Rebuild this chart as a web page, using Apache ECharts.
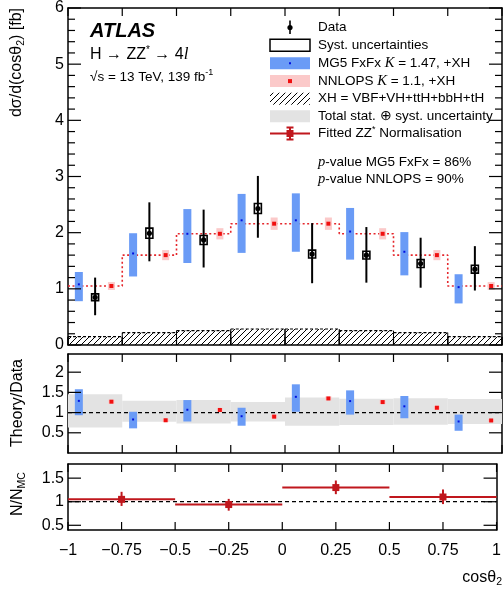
<!DOCTYPE html>
<html><head><meta charset="utf-8">
<script src="https://cdn.jsdelivr.net/npm/echarts@6/dist/echarts.min.js"></script>
<style>html,body{margin:0;padding:0;background:#fff}#c{width:504px;height:590px}#log{position:absolute;left:2px;top:578px;font:9px monospace;color:#c00;white-space:pre}</style>
</head><body><div id="c"></div><div id="log"></div>
<script>
const logs = [];
function showLog() { document.getElementById('log').textContent = logs.join(' | ').slice(0, 160); }
window.onerror = function (m) { logs.push('ERR ' + m); showLog(); };
console.error = function () { logs.push('E ' + Array.from(arguments).join(' ')); showLog(); };

// ---------------- data ----------------
const binEdges = [-1, -0.75, -0.5, -0.25, 0, 0.25, 0.5, 0.75, 1];
const xTicks = [-1, -0.75, -0.5, -0.25, 0, 0.25, 0.5, 0.75, 1];
const dataVal   = [0.85, 1.99, 1.87, 2.43, 1.62, 1.60, 1.45, 1.35];
const dataErrLo = [0.53, 1.49, 1.38, 1.91, 1.10, 1.11, 1.02, 0.97];
const dataErrHi = [1.20, 2.54, 2.41, 3.01, 2.17, 2.10, 1.91, 1.76];
const dataSyst  = [0.06, 0.09, 0.08, 0.09, 0.07, 0.07, 0.07, 0.07];
const mg5Val = [1.08, 1.63, 1.98, 2.22, 2.22, 2.02, 1.66, 1.03];
const mg5Lo  = [0.78, 1.22, 1.46, 1.64, 1.66, 1.52, 1.24, 0.74];
const mg5Hi  = [1.30, 1.99, 2.42, 2.69, 2.70, 2.44, 2.01, 1.26];
const nnlopsVal = [1.05, 1.60, 1.98, 2.16, 2.16, 1.98, 1.60, 1.05];
const nnlopsErr = [0.07, 0.09, 0.10, 0.11, 0.11, 0.10, 0.09, 0.07];
const xhVal = [0.15, 0.22, 0.255, 0.285, 0.285, 0.255, 0.22, 0.15];
// ratio panel
const totUncLo = [0.634, 0.773, 0.732, 0.78, 0.675, 0.69, 0.70, 0.717];
const totUncHi = [1.456, 1.293, 1.31, 1.26, 1.375, 1.34, 1.358, 1.334];
const mg5RatioVal = [1.29, 0.83, 1.07, 0.91, 1.39, 1.285, 1.155, 0.78];
const mg5RatioLo  = [0.935, 0.61, 0.78, 0.675, 1.02, 0.95, 0.86, 0.55];
const mg5RatioHi  = [1.578, 1.02, 1.31, 1.12, 1.70, 1.55, 1.41, 0.95];
const nnlopsRatioVal = [1.27, 0.81, 1.065, 0.90, 1.35, 1.26, 1.12, 0.805];
const nnlopsRatioErr = [0.05, 0.04, 0.05, 0.05, 0.05, 0.05, 0.05, 0.04];
// normalisation panel
const normEdges = [-1, -0.5, 0, 0.5, 1];
const normVal = [1.05, 0.94, 1.30, 1.10];
const normLo  = [0.91, 0.81, 1.16, 0.95];
const normHi  = [1.21, 1.06, 1.45, 1.26];
const mainYTicks = [0, 1, 2, 3, 4, 5, 6];
const ratioYTicks = [0.5, 1, 1.5, 2];
const normYTicks = [0.5, 1, 1.5];

// ---------------- style ----------------
const FONT = 'Liberation Sans';
const SERIF = 'Liberation Serif';
const BLUE = '#6a9bf6', BLUEDOT = '#0010e0', PINK = '#fbc9c9', RED = '#f01010', GRAY = '#e3e3e3', DRED = '#c0171d';
const OFF = 0.075; // horizontal offset of theory markers inside bin
const AXLINE = { show: true, onZero: false, lineStyle: { color: '#000', width: 1.5 } };
const ranges = [[0, 6], [0, 2.45], [0.4, 1.8]];

const centers = binEdges.slice(0, -1).map((e, i) => (e + binEdges[i + 1]) / 2);

function fmtX(v) { return (v < 0 ? '\u2212' + String(-v) : String(v)); }

function xAxesFor(gi, labels) {
  return [
    { gridIndex: gi, type: 'value', min: -1, max: 1, interval: 0.25, position: 'bottom',
      axisLine: AXLINE, splitLine: { show: false }, axisTick: { show: false },
      axisLabel: { show: labels, fontFamily: FONT, fontSize: 16, color: '#000', margin: 13, formatter: fmtX } },
    { gridIndex: gi, type: 'value', min: -1, max: 1, interval: 0.25, position: 'top',
      axisLine: AXLINE, splitLine: { show: false }, axisTick: { show: false }, axisLabel: { show: false } }
  ];
}
function yAxesFor(gi, ticks, isMain) {
  const base = { gridIndex: gi, type: 'value', min: ranges[gi][0], max: ranges[gi][1],
    axisLine: AXLINE, splitLine: { show: false }, axisTick: { show: false }, minorTick: { show: false } };
  const lab = { fontFamily: FONT, fontSize: 16, color: '#000', margin: 4 };
  const left = isMain ? Object.assign({}, base, { position: 'left', interval: 1, axisLabel: lab })
    : Object.assign({}, base, { position: 'left', axisLabel: Object.assign({ customValues: ticks }, lab) });
  const right = Object.assign({}, base, { position: 'right', axisLabel: { show: false } }, isMain ? { interval: 1 } : {});
  return [left, right];
}

// ---------- renderers ----------
function renderHatch(params, api) {
  const xl = api.value(0), xr = api.value(1), h = api.value(2);
  const p0 = api.coord([xl, h]), p1 = api.coord([xr, 0]);
  const x0 = p0[0], y0 = p0[1], x1 = p1[0], y1 = p1[1];
  const s = 6, ch = [];
  const cStart = Math.ceil((x0 + y0) / s) * s;
  for (let c = cStart; c <= x1 + y1; c += s) {
    const xa = Math.max(x0, c - y1), xb = Math.min(x1, c - y0);
    if (xb > xa) ch.push({ type: 'line', shape: { x1: xa, y1: c - xa, x2: xb, y2: c - xb }, style: { stroke: '#000', lineWidth: 1 } });
  }
  ch.push({ type: 'line', shape: { x1: x0, y1: y0, x2: x1, y2: y0 }, style: { stroke: '#000', lineWidth: 1.2, lineDash: [3, 2] } });
  ch.push({ type: 'line', shape: { x1: x0, y1: y0, x2: x0, y2: y1 }, style: { stroke: '#000', lineWidth: 1 } });
  ch.push({ type: 'line', shape: { x1: x1, y1: y0, x2: x1, y2: y1 }, style: { stroke: '#000', lineWidth: 1 } });
  return { type: 'group', children: ch };
}
function boxRenderer(w, fill, dotColor, dotSize) {
  return function (params, api) {
    const x = api.value(0), v = api.value(1), lo = api.value(2), hi = api.value(3);
    const pt = api.coord([x, hi]), pb = api.coord([x, lo]), pc = api.coord([x, v]);
    return { type: 'group', children: [
      { type: 'rect', shape: { x: pt[0] - w / 2, y: pt[1], width: w, height: pb[1] - pt[1] }, style: { fill: fill } },
      { type: 'rect', shape: { x: pc[0] - dotSize / 2, y: pc[1] - dotSize / 2, width: dotSize, height: dotSize }, style: { fill: dotColor } }
    ] };
  };
}
function renderBand(params, api) {
  const pt = api.coord([api.value(0), api.value(3)]), pb = api.coord([api.value(1), api.value(2)]);
  return { type: 'rect', shape: { x: pt[0], y: pt[1], width: pb[0] - pt[0], height: pb[1] - pt[1] }, style: { fill: GRAY } };
}
function renderData(params, api) {
  const x = api.value(0), v = api.value(1), lo = api.value(2), hi = api.value(3), sy = api.value(4);
  const ph = api.coord([x, hi]), pl = api.coord([x, lo]), pc = api.coord([x, v]);
  const st = api.coord([x, v + sy]), sb = api.coord([x, v - sy]);
  const w = 7;
  return { type: 'group', children: [
    { type: 'line', shape: { x1: ph[0], y1: ph[1], x2: pl[0], y2: pl[1] }, style: { stroke: '#000', lineWidth: 2 } },
    { type: 'rect', shape: { x: st[0] - w / 2, y: st[1], width: w, height: Math.max(sb[1] - st[1], 6) }, style: { fill: 'none', stroke: '#000', lineWidth: 1.6 } },
    { type: 'circle', shape: { cx: pc[0], cy: pc[1], r: 2.6 }, style: { fill: '#000' } }
  ] };
}
function renderNorm(params, api) {
  const xl = api.value(0), xr = api.value(1), v = api.value(2), lo = api.value(3), hi = api.value(4);
  const xc = (xl + xr) / 2;
  const a = api.coord([xl, v]), b = api.coord([xr, v]), ph = api.coord([xc, hi]), pl = api.coord([xc, lo]), pc = api.coord([xc, v]);
  return { type: 'group', children: [
    { type: 'line', shape: { x1: a[0], y1: a[1], x2: b[0], y2: b[1] }, style: { stroke: DRED, lineWidth: 2 } },
    { type: 'line', shape: { x1: ph[0], y1: ph[1], x2: pl[0], y2: pl[1] }, style: { stroke: DRED, lineWidth: 2 } },
    { type: 'rect', shape: { x: pc[0] - 3.5, y: pc[1] - 3.5, width: 7, height: 7 }, style: { fill: DRED } }
  ] };
}

// ---------- series data ----------
const hatchData = xhVal.map((h, i) => [binEdges[i], binEdges[i + 1], h]);
const stepData = [];
nnlopsVal.forEach((v, i) => { stepData.push([binEdges[i], v]); stepData.push([binEdges[i + 1], v]); });
const mg5Data = mg5Val.map((v, i) => [centers[i] - OFF, v, mg5Lo[i], mg5Hi[i]]);
const nnData = nnlopsVal.map((v, i) => [centers[i] + OFF, v, v - nnlopsErr[i], v + nnlopsErr[i]]);
const dData = dataVal.map((v, i) => [centers[i], v, dataErrLo[i], dataErrHi[i], dataSyst[i]]);
const bandData = totUncLo.map((lo, i) => [binEdges[i], binEdges[i + 1], lo, totUncHi[i]]);
const mg5RData = mg5RatioVal.map((v, i) => [centers[i] - OFF, v, mg5RatioLo[i], mg5RatioHi[i]]);
const nnRData = nnlopsRatioVal.map((v, i) => [centers[i] + OFF, v, v - nnlopsRatioErr[i], v + nnlopsRatioErr[i]]);
const normData = normVal.map((v, i) => [normEdges[i], normEdges[i + 1], v, normLo[i], normHi[i]]);

const grids = [
  { left: 68, right: 2, top: 8, height: 337 },
  { left: 68, right: 2, top: 354, height: 99 },
  { left: 68, right: 2, top: 464, height: 66 }
];

const xAxis = [].concat(xAxesFor(0, false), xAxesFor(1, false), xAxesFor(2, true));
const yAxis = [].concat(yAxesFor(0, mainYTicks, true), yAxesFor(1, ratioYTicks, false), yAxesFor(2, normYTicks, false));

const series = [
  { type: 'custom', xAxisIndex: 0, yAxisIndex: 0, renderItem: renderHatch, data: hatchData, z: 2, silent: true },
  { type: 'line', xAxisIndex: 0, yAxisIndex: 0, data: stepData, symbol: 'none', z: 3,
    lineStyle: { color: '#e5262b', width: 1.6, type: [2, 2.5] }, silent: true, animation: false },
  { type: 'custom', xAxisIndex: 0, yAxisIndex: 0, renderItem: boxRenderer(8, BLUE, BLUEDOT, 2), data: mg5Data, z: 4 },
  { type: 'custom', xAxisIndex: 0, yAxisIndex: 0, renderItem: boxRenderer(7, PINK, RED, 4), data: nnData, z: 4 },
  { type: 'custom', xAxisIndex: 0, yAxisIndex: 0, renderItem: renderData, data: dData, z: 5 },
  // ratio panel
  { type: 'custom', xAxisIndex: 2, yAxisIndex: 2, renderItem: renderBand, data: bandData, z: 2 },
  { type: 'line', xAxisIndex: 2, yAxisIndex: 2, data: [[-1, 1], [1, 1]], symbol: 'none', z: 3,
    lineStyle: { color: '#000', width: 1.2, type: [4, 3] }, animation: false },
  { type: 'custom', xAxisIndex: 2, yAxisIndex: 2, renderItem: boxRenderer(8, BLUE, BLUEDOT, 2), data: mg5RData, z: 4 },
  { type: 'custom', xAxisIndex: 2, yAxisIndex: 2, renderItem: boxRenderer(6, PINK, RED, 4), data: nnRData, z: 4 },
  // normalisation panel
  { type: 'line', xAxisIndex: 4, yAxisIndex: 4, data: [[-1, 1], [1, 1]], symbol: 'none', z: 3,
    lineStyle: { color: '#000', width: 1.2, type: [4, 3] }, animation: false },
  { type: 'custom', xAxisIndex: 4, yAxisIndex: 4, renderItem: renderNorm, data: normData, z: 4 }
];

// ---------- annotations / legend ----------
const LX = 270, LW = 40, TX = 318, LFS = 13.5;
const rowY = [27.5, 45.3, 63.2, 81.1, 98.7, 116.2, 133.5];
function txt(x, y, text, fs, extra) {
  return Object.assign({ type: 'text', x: x, y: y, z: 100,
    style: Object.assign({ text: text, fontFamily: FONT, fontSize: fs, fill: '#000', align: 'left', verticalAlign: 'middle', textAlign: 'left', textVerticalAlign: 'middle' }, extra || {}) });
}
const richCommon = {
  k: { fontFamily: SERIF, fontStyle: 'italic', fontSize: 14.5 },
  sup: { fontSize: 9, verticalAlign: 'top', fontFamily: FONT },
  sub: { fontSize: 10.5, verticalAlign: 'bottom', fontFamily: FONT }
};
function hatchLegend(x0, y0, x1, y1) {
  const ch = [], s = 6;
  for (let c = Math.ceil((x0 + y0) / s) * s; c <= x1 + y1; c += s) {
    const xa = Math.max(x0, c - y1), xb = Math.min(x1, c - y0);
    if (xb > xa) ch.push({ type: 'line', shape: { x1: xa, y1: c - xa, x2: xb, y2: c - xb }, style: { stroke: '#000', lineWidth: 1 } });
  }
  return ch;
}
const g = [];
g.push(txt(90, 31, 'ATLAS', 20, { fontWeight: 'bold', fontStyle: 'italic' }));
g.push(txt(90, 55, 'H \u2192 ZZ{sup|*} \u2192 4{l|l}', 16, { rich: { sup: { fontSize: 10, verticalAlign: 'top' }, l: { fontFamily: SERIF, fontStyle: 'italic', fontSize: 17 } }, lineHeight: 20 }));
g.push(txt(90, 77, '\u221As = 13 TeV, 139 fb{sup|-1}', 13.5, { rich: { sup: { fontSize: 9, verticalAlign: 'top' } }, lineHeight: 18 }));
// legend symbols
g.push({ type: 'line', shape: { x1: 290, y1: 20.5, x2: 290, y2: 34 }, style: { stroke: '#000', lineWidth: 1.6 }, z: 100 });
g.push({ type: 'circle', shape: { cx: 290, cy: rowY[0], r: 2.6 }, style: { fill: '#000' }, z: 100 });
g.push({ type: 'rect', shape: { x: LX, y: rowY[1] - 6, width: LW, height: 12 }, style: { fill: '#fff', stroke: '#000', lineWidth: 1.5 }, z: 100 });
g.push({ type: 'rect', shape: { x: LX, y: rowY[2] - 6, width: LW, height: 12 }, style: { fill: BLUE }, z: 100 });
g.push({ type: 'rect', shape: { x: 289, y: rowY[2] - 1, width: 2, height: 2 }, style: { fill: BLUEDOT }, z: 101 });
g.push({ type: 'rect', shape: { x: LX, y: rowY[3] - 6, width: LW, height: 12 }, style: { fill: PINK }, z: 100 });
g.push({ type: 'rect', shape: { x: 288, y: rowY[3] - 2, width: 4, height: 4 }, style: { fill: RED }, z: 101 });
g.push({ type: 'group', z: 100, children: hatchLegend(LX, rowY[4] - 6, LX + LW, rowY[4] + 6) });
g.push({ type: 'rect', shape: { x: LX, y: rowY[5] - 6, width: LW, height: 12 }, style: { fill: GRAY }, z: 100 });
g.push({ type: 'line', shape: { x1: LX, y1: rowY[6], x2: LX + LW, y2: rowY[6] }, style: { stroke: DRED, lineWidth: 2 }, z: 100 });
g.push({ type: 'line', shape: { x1: 290, y1: rowY[6] - 6, x2: 290, y2: rowY[6] + 6 }, style: { stroke: DRED, lineWidth: 2 }, z: 100 });
g.push({ type: 'line', shape: { x1: 286.5, y1: rowY[6] - 6, x2: 293.5, y2: rowY[6] - 6 }, style: { stroke: DRED, lineWidth: 2 }, z: 100 });
g.push({ type: 'line', shape: { x1: 286.5, y1: rowY[6] + 6, x2: 293.5, y2: rowY[6] + 6 }, style: { stroke: DRED, lineWidth: 2 }, z: 100 });
g.push({ type: 'rect', shape: { x: 286.5, y: rowY[6] - 3.5, width: 7, height: 7 }, style: { fill: DRED }, z: 101 });
// legend text
const legendTexts = ['Data', 'Syst. uncertainties', 'MG5 FxFx {k|K} = 1.47, +XH', 'NNLOPS {k|K} = 1.1, +XH',
  'XH = VBF+VH+ttH+bbH+tH', 'Total stat. \u2295 syst. uncertainty', 'Fitted ZZ{sup|*} Normalisation'];
legendTexts.forEach((t, i) => g.push(txt(TX, rowY[i], t, LFS, { rich: richCommon, lineHeight: 17 })));
g.push(txt(TX, 162, '{k|p}-value MG5 FxFx = 86%', LFS, { rich: richCommon, lineHeight: 17 }));
g.push(txt(TX, 179.5, '{k|p}-value NNLOPS = 90%', LFS, { rich: richCommon, lineHeight: 17 }));
// axis titles
g.push(Object.assign(txt(17, 8, 'd\u03C3/d(cos\u03B8{sub|2}) [fb]', 16, { align: 'right', textAlign: 'right', rich: richCommon, lineHeight: 20 }), { rotation: Math.PI / 2 }));
g.push(Object.assign(txt(18, 403, 'Theory/Data', 16, { align: 'center', textAlign: 'center' }), { rotation: Math.PI / 2 }));
g.push(Object.assign(txt(18, 494, 'N/N{sub|MC}', 16, { align: 'center', textAlign: 'center', rich: richCommon, lineHeight: 20 }), { rotation: Math.PI / 2 }));
g.push(txt(502, 578, 'cos\u03B8{sub|2}', 16, { align: 'right', textAlign: 'right', rich: richCommon, lineHeight: 20 }));

const chart = echarts.init(document.getElementById('c'), null, { renderer: 'canvas' });
try {
  chart.setOption({ animation: false, grid: grids, xAxis: xAxis, yAxis: yAxis, series: series });
} catch (e) { logs.push('SET ' + e.message); showLog(); }

// ---------- frame ticks, positioned through the axes' own scales ----------
const tickEls = [];
function tline(x1, y1, x2, y2) {
  tickEls.push({ type: 'line', z: 90, shape: { x1: x1, y1: y1, x2: x2, y2: y2 }, style: { stroke: '#000', lineWidth: 1.2 } });
}
const yTickSets = [mainYTicks, ratioYTicks, normYTicks];
try {
  for (let gi = 0; gi < 3; gi++) {
    const finder = { xAxisIndex: gi * 2, yAxisIndex: gi * 2 };
    const lo = chart.convertToPixel(finder, [-1, ranges[gi][0]]);
    const hi = chart.convertToPixel(finder, [1, ranges[gi][1]]);
    const L = lo[0], R = hi[0], B = lo[1], T = hi[1];
    xTicks.forEach(v => {
      const x = chart.convertToPixel(finder, [v, ranges[gi][0]])[0];
      tline(x, B, x, B - 8); tline(x, T, x, T + 8);
    });
    yTickSets[gi].forEach(v => {
      const y = chart.convertToPixel(finder, [0, v])[1];
      tline(L, y, L + 13, y); tline(R, y, R - 13, y);
    });
    if (gi === 0) {
      for (let i = 0; i < mainYTicks.length - 1; i++) {
        for (let k = 1; k < 5; k++) {
          const y = chart.convertToPixel(finder, [0, mainYTicks[i] + k * 0.2])[1];
          tline(L, y, L + 7, y); tline(R, y, R - 7, y);
        }
      }
    }
  }
} catch (e) { logs.push('TICK ' + e.message); showLog(); }

try {
  chart.setOption({ graphic: { elements: g.concat(tickEls) } });
} catch (e) { logs.push('GR ' + e.message); showLog(); }
</script></body></html>
